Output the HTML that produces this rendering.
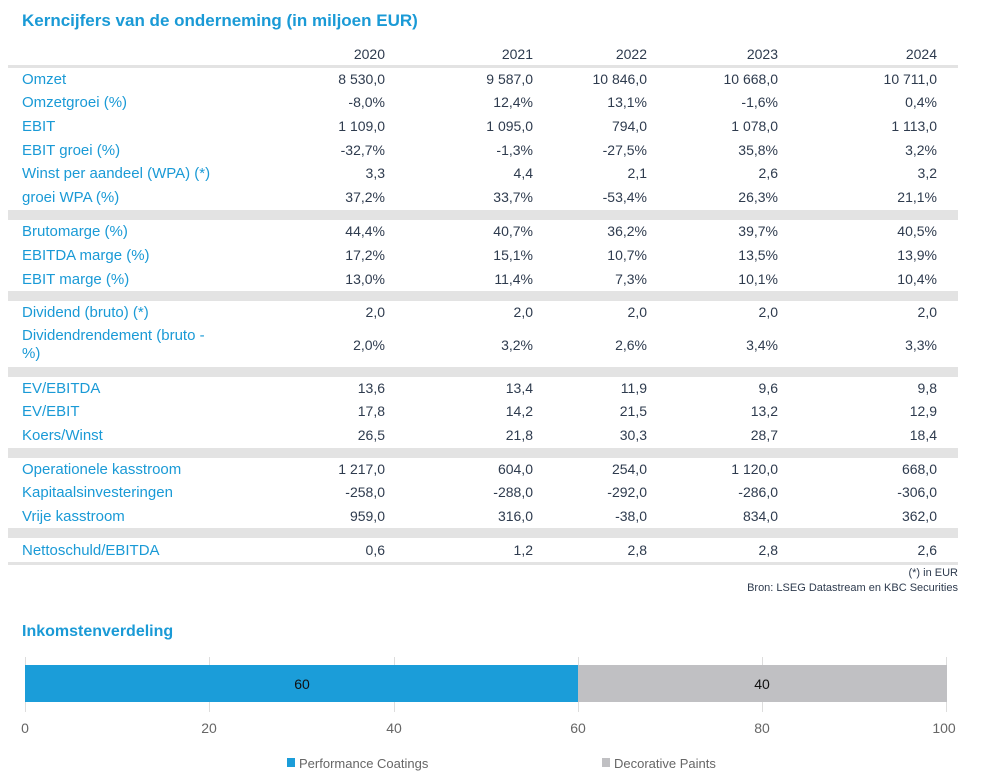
<!DOCTYPE html>
<html><head><meta charset="utf-8"><style>
body{margin:0;width:987px;height:775px;background:#fff;font-family:"Liberation Sans",sans-serif;position:relative;overflow:hidden}
.a{position:absolute;white-space:nowrap}
.l{left:22px;color:#1a9ad6;font-size:15px}
.v{color:#2e3b4e;font-size:14px;text-align:right}
.band{position:absolute;left:8px;width:950px;background:#e3e3e3}
</style></head><body>
<div class="a" style="left:22px;top:11px;color:#1a9ad6;font-size:17px;font-weight:bold">Kerncijfers van de onderneming (in miljoen EUR)</div>
<div class="band" style="top:65px;height:3px"></div>
<div class="band" style="top:210px;height:10px"></div>
<div class="band" style="top:291px;height:10px"></div>
<div class="band" style="top:367px;height:10px"></div>
<div class="band" style="top:448px;height:10px"></div>
<div class="band" style="top:528px;height:10px"></div>
<div class="band" style="top:562px;height:3px"></div>
<div id="t"></div>
<div class="a" style="right:29px;top:567px;font-size:11px;color:#2e3b4e">(*) in EUR</div>
<div class="a" style="right:29px;top:582px;font-size:11px;color:#2e3b4e">Bron: LSEG Datastream en KBC Securities</div>
<div class="a" style="left:22px;top:623px;color:#1a9ad6;font-size:16px;font-weight:bold">Inkomstenverdeling</div>
<svg class="a" style="left:0;top:650px" width="987" height="125">
<g stroke="#ddd" stroke-width="1">
<line x1="25.5" y1="7" x2="25.5" y2="62"/><line x1="209.5" y1="7" x2="209.5" y2="62"/><line x1="394.5" y1="7" x2="394.5" y2="62"/><line x1="578.5" y1="7" x2="578.5" y2="62"/><line x1="762.5" y1="7" x2="762.5" y2="62"/><line x1="946.5" y1="7" x2="946.5" y2="62"/></g>
<rect x="25" y="15" width="553" height="37" fill="#1b9dd9"/>
<rect x="578" y="15" width="369" height="37" fill="#c0c0c3"/>
<g font-family="Liberation Sans,sans-serif" font-size="14" text-anchor="middle">
<text x="302" y="39" fill="#111">60</text><text x="762" y="39" fill="#111">40</text>
<g fill="#666"><text x="25" y="83">0</text><text x="209" y="83">20</text><text x="394" y="83">40</text><text x="578" y="83">60</text><text x="762" y="83">80</text><text x="944" y="83">100</text></g>
</g>
<rect x="287" y="108" width="8" height="9" fill="#1b9dd9"/>
<text x="299" y="118" font-family="Liberation Sans,sans-serif" font-size="13" fill="#666">Performance Coatings</text>
<rect x="602" y="108" width="8" height="9" fill="#c0c0c3"/>
<text x="614" y="118" font-family="Liberation Sans,sans-serif" font-size="13" fill="#666">Decorative Paints</text>
</svg>
<script>
var R=[385,533,647,778,937];
var rows=[
[54,"",["2020","2021","2022","2023","2024"]],
[79,"Omzet",["8 530,0","9 587,0","10 846,0","10 668,0","10 711,0"]],
[102,"Omzetgroei (%)",["-8,0%","12,4%","13,1%","-1,6%","0,4%"]],
[126,"EBIT",["1 109,0","1 095,0","794,0","1 078,0","1 113,0"]],
[150,"EBIT groei (%)",["-32,7%","-1,3%","-27,5%","35,8%","3,2%"]],
[173,"Winst per aandeel (WPA) (*)",["3,3","4,4","2,1","2,6","3,2"]],
[197,"groei WPA (%)",["37,2%","33,7%","-53,4%","26,3%","21,1%"]],
[231,"Brutomarge (%)",["44,4%","40,7%","36,2%","39,7%","40,5%"]],
[255,"EBITDA marge (%)",["17,2%","15,1%","10,7%","13,5%","13,9%"]],
[279,"EBIT marge (%)",["13,0%","11,4%","7,3%","10,1%","10,4%"]],
[312,"Dividend (bruto) (*)",["2,0","2,0","2,0","2,0","2,0"]],
[345,"",["2,0%","3,2%","2,6%","3,4%","3,3%"]],
[388,"EV/EBITDA",["13,6","13,4","11,9","9,6","9,8"]],
[411,"EV/EBIT",["17,8","14,2","21,5","13,2","12,9"]],
[435,"Koers/Winst",["26,5","21,8","30,3","28,7","18,4"]],
[469,"Operationele kasstroom",["1 217,0","604,0","254,0","1 120,0","668,0"]],
[492,"Kapitaalsinvesteringen",["-258,0","-288,0","-292,0","-286,0","-306,0"]],
[516,"Vrije kasstroom",["959,0","316,0","-38,0","834,0","362,0"]],
[550,"Nettoschuld/EBITDA",["0,6","1,2","2,8","2,8","2,6"]]];
var h="";
rows.forEach(function(r){
 if(r[1])h+='<div class="a l" style="top:'+(r[0]-8)+'px">'+r[1]+'</div>';
 r[2].forEach(function(v,i){h+='<div class="a v" style="top:'+(r[0]-8)+'px;right:'+(987-R[i])+'px">'+v+'</div>';});
});
h+='<div class="a l" style="top:327px">Dividendrendement (bruto -</div><div class="a l" style="top:345px">%)</div>';
document.getElementById("t").innerHTML=h;
</script>
</body></html>
